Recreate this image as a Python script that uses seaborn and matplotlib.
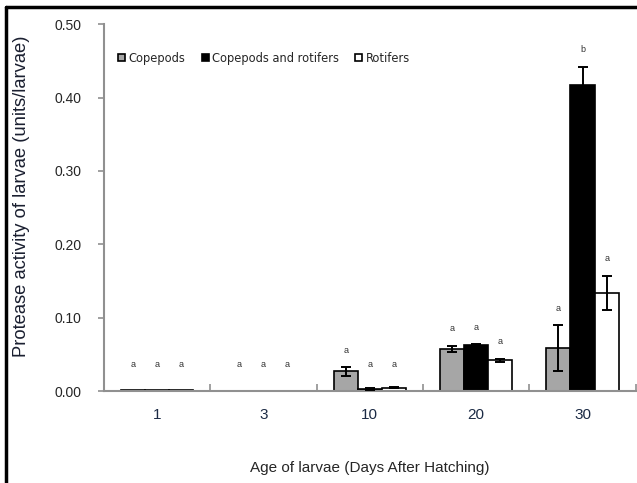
import matplotlib
matplotlib.use("Agg")
import matplotlib.pyplot as plt
import seaborn as sns
import pandas as pd
import numpy as np
from matplotlib.lines import Line2D
from matplotlib.patches import Patch
from matplotlib.container import BarContainer
from matplotlib import font_manager as fm

days = ["1", "3", "10", "20", "30"]
diets = ["Copepods", "Copepods and rotifers", "Rotifers"]
copepods = [0.0015, 0.0, 0.027, 0.058, 0.059]
copepods_err = [0.0, 0.0, 0.006, 0.004, 0.031]
cop_rot = [0.0015, 0.0, 0.003, 0.063, 0.417]
cop_rot_err = [0.0, 0.0, 0.001, 0.001, 0.025]
rotifers = [0.0015, 0.0, 0.005, 0.042, 0.134]
rotifers_err = [0.0, 0.0, 0.001, 0.002, 0.023]
letters = [["a", "a", "a", "a", "a"],
           ["a", "a", "a", "a", "b"],
           ["a", "a", "a", "a", "a"]]
colors = ["#A6A6A6", "#000000", "#FFFFFF"]

vals = [copepods, cop_rot, rotifers]
errs = [copepods_err, cop_rot_err, rotifers_err]

df = pd.DataFrame({
    "day": days * 3,
    "diet": np.repeat(diets, len(days)),
    "value": copepods + cop_rot + rotifers,
})

sns.set_theme(style="white")
plt.rcParams["font.family"] = ["Liberation Sans", "DejaVu Sans"]

cond = [f for f in fm.fontManager.ttflist if f.fname.endswith("DejaVuSansCondensed.ttf")]
if cond:
    lp = fm.FontProperties(fname=cond[0].fname, size=9.2)
else:
    lp = fm.FontProperties(family="Liberation Sans", size=9)

fig = plt.figure(figsize=(6.37, 4.83), dpi=100)
ax = fig.add_axes([0.163, 0.19, 0.835, 0.76])

sns.barplot(data=df, x="day", y="value", hue="diet", order=days, hue_order=diets,
            palette=colors, width=0.68, gap=0, edgecolor="black", linewidth=1.2,
            errorbar=None, legend=False, ax=ax)

bar_conts = [c for c in ax.containers if isinstance(c, BarContainer)]
for ci, cont in enumerate(bar_conts):
    for bi, patch in enumerate(cont.patches):
        h = vals[ci][bi]
        if h == 0:
            patch.set_visible(False)
        xc = patch.get_x() + patch.get_width() / 2
        e = errs[ci][bi]
        if e > 0:
            ax.errorbar(xc, h, yerr=e, color="black", capsize=3.5, elinewidth=1.4,
                        capthick=1.4, fmt="none", zorder=5)
        ty = max(h + e + 0.017, 0.03)
        ax.text(xc, ty, letters[ci][bi], ha="center", va="bottom", fontsize=6.5,
                color="#333333")

ax.set_ylim(0, 0.5)
ax.set_xlim(-0.5, len(days) - 0.5)
ax.set_yticks(np.arange(0, 0.51, 0.1))
ax.set_yticklabels([f"{v:.2f}" for v in np.arange(0, 0.51, 0.1)])
ax.set_xticks(np.arange(0.5, len(days), 1.0), minor=True)
ax.tick_params(axis="x", which="minor", direction="in", length=5, color="#909090", width=1.2, bottom=True)
ax.tick_params(axis="x", which="major", length=0, labelsize=11, pad=12, labelcolor="#1c2b45")
ax.tick_params(axis="y", which="major", direction="out", length=4, color="#909090", width=1.2,
               left=True, labelsize=10, pad=12)
for s in ["top", "right"]:
    ax.spines[s].set_visible(False)
for s in ["left", "bottom"]:
    ax.spines[s].set_color("#909090")
    ax.spines[s].set_linewidth(1.5)

ax.set_xlabel("Age of larvae (Days After Hatching)", fontsize=11, labelpad=28)
ax.set_ylabel("Protease activity of larvae (units/larvae)", fontsize=13.2, color="#1a1f30")
ax.yaxis.set_label_coords(-0.139, 0.531)

handles = [Patch(facecolor=c, edgecolor="black", linewidth=1.2) for c in colors]
ax.legend(handles, diets, ncol=3, frameon=False, loc="upper left", bbox_to_anchor=(0.005, 0.955),
          prop=lp, handlelength=0.55, handleheight=0.55, handletextpad=0.25, columnspacing=1.3)

fig.add_artist(Line2D([0.009, 0.009], [0.0, 0.986], transform=fig.transFigure, color="black", linewidth=2.5))
fig.add_artist(Line2D([0.009, 1.0], [0.986, 0.986], transform=fig.transFigure, color="black", linewidth=2.5))

fig.savefig("out.png", dpi=100)
